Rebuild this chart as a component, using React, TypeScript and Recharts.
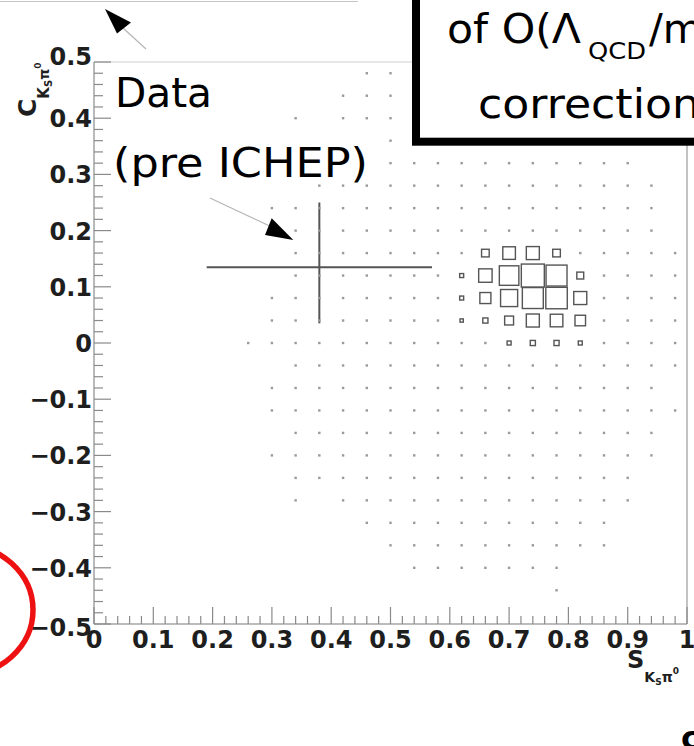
import React from 'react';
import { ScatterChart, Scatter, XAxis, YAxis, ZAxis, ErrorBar, ReferenceLine } from 'recharts';

// Bin centres of the 25 x 25 histogram (S on [0, 1], C on [-0.5, 0.5])
const sBinCenters = [
  0.02, 0.06, 0.1, 0.14, 0.18, 0.22, 0.26, 0.3, 0.34, 0.38, 0.42, 0.46, 0.5,
  0.54, 0.58, 0.62, 0.66, 0.7, 0.74, 0.78, 0.82, 0.86, 0.9, 0.94, 0.98,
];
// C bin centres, top row first
const cBinCenters = [
  0.48, 0.44, 0.4, 0.36, 0.32, 0.28, 0.24, 0.2, 0.16, 0.12, 0.08, 0.04, 0,
  -0.04, -0.08, -0.12, -0.16, -0.2, -0.24, -0.28, -0.32, -0.36, -0.4, -0.44, -0.48,
];

// Cell contents, one row per C bin (same order as cBinCenters)
const cellCounts = [
  [0, 0, 0, 0, 0, 0, 0, 0, 0, 0, 0, 1, 1, 0, 0, 0, 0, 0, 0, 0, 0, 0, 0, 0, 0],
  [0, 0, 0, 0, 0, 0, 0, 0, 0, 0, 1, 1, 1, 0, 0, 0, 0, 0, 0, 0, 0, 0, 0, 0, 0],
  [0, 0, 0, 0, 0, 0, 0, 0, 1, 0, 1, 1, 1, 0, 0, 0, 0, 0, 0, 0, 0, 0, 0, 0, 0],
  [0, 0, 0, 0, 0, 0, 0, 0, 0, 0, 0, 0, 1, 0, 0, 0, 0, 0, 0, 0, 0, 0, 0, 0, 0],
  [0, 0, 0, 0, 0, 0, 0, 0, 0, 0, 0, 0, 1, 1, 1, 1, 1, 1, 1, 1, 1, 1, 1, 0, 0],
  [0, 0, 0, 0, 0, 0, 0, 0, 0, 1, 1, 1, 1, 1, 1, 1, 1, 1, 1, 1, 1, 1, 1, 1, 0],
  [0, 0, 0, 0, 0, 0, 0, 1, 1, 1, 1, 1, 1, 1, 1, 1, 1, 1, 1, 1, 1, 1, 1, 1, 0],
  [0, 0, 0, 0, 0, 0, 0, 0, 1, 1, 1, 1, 1, 1, 1, 1, 1, 1, 1, 1, 1, 1, 1, 1, 0],
  [0, 0, 0, 0, 0, 0, 0, 0, 1, 1, 1, 1, 1, 1, 1, 1, 11, 30, 32, 11, 1, 1, 1, 1, 1],
  [0, 0, 0, 0, 0, 0, 0, 0, 1, 1, 1, 1, 1, 1, 1, 3, 34, 72, 100, 83, 9, 1, 1, 1, 1],
  [0, 0, 0, 0, 0, 0, 0, 1, 1, 1, 1, 1, 1, 1, 1, 3, 23, 55, 83, 87, 32, 1, 1, 1, 1],
  [0, 0, 0, 0, 0, 0, 0, 1, 1, 1, 1, 1, 1, 1, 1, 2, 5, 15, 32, 30, 21, 1, 1, 1, 1],
  [0, 0, 0, 0, 0, 0, 1, 1, 1, 1, 1, 1, 1, 1, 1, 1, 1, 3, 5, 5, 3, 1, 1, 1, 1],
  [0, 0, 0, 0, 0, 0, 0, 0, 1, 1, 1, 1, 1, 1, 1, 1, 1, 1, 1, 1, 1, 1, 1, 1, 1],
  [0, 0, 0, 0, 0, 0, 0, 1, 1, 1, 1, 1, 1, 1, 1, 1, 1, 1, 1, 1, 1, 1, 1, 1, 0],
  [0, 0, 0, 0, 0, 0, 0, 1, 1, 1, 1, 1, 1, 1, 1, 1, 1, 1, 1, 1, 1, 1, 1, 1, 1],
  [0, 0, 0, 0, 0, 0, 0, 0, 1, 1, 1, 1, 1, 1, 1, 1, 1, 1, 1, 1, 1, 1, 1, 1, 0],
  [0, 0, 0, 0, 0, 0, 0, 1, 1, 1, 1, 1, 1, 1, 1, 1, 1, 1, 1, 1, 1, 1, 1, 1, 0],
  [0, 0, 0, 0, 0, 0, 0, 0, 1, 1, 1, 1, 1, 1, 1, 1, 1, 1, 1, 1, 1, 1, 1, 0, 0],
  [0, 0, 0, 0, 0, 0, 0, 0, 1, 0, 1, 1, 1, 1, 1, 1, 1, 1, 1, 1, 1, 1, 1, 0, 0],
  [0, 0, 0, 0, 0, 0, 0, 0, 0, 0, 0, 1, 1, 1, 1, 1, 1, 1, 1, 1, 1, 1, 0, 0, 0],
  [0, 0, 0, 0, 0, 0, 0, 0, 0, 0, 0, 0, 1, 1, 1, 1, 1, 1, 1, 1, 1, 1, 0, 0, 0],
  [0, 0, 0, 0, 0, 0, 0, 0, 0, 0, 0, 0, 0, 1, 1, 1, 1, 1, 1, 1, 0, 0, 0, 0, 0],
  [0, 0, 0, 0, 0, 0, 0, 0, 0, 0, 0, 0, 0, 0, 0, 0, 0, 0, 0, 1, 0, 0, 0, 0, 0],
  [0, 0, 0, 0, 0, 0, 0, 0, 0, 0, 0, 0, 0, 0, 0, 0, 0, 0, 0, 0, 0, 0, 0, 0, 0],
];

// Measured point with its uncertainties
const measurement = [{ s: 0.38, c: 0.135, sErr: 0.19, cErr: [0.1, 0.115] }];

// Labelled axis divisions
const sMajorTicks = [0, 0.1, 0.2, 0.3, 0.4, 0.5, 0.6, 0.7, 0.8, 0.9, 1];
const cMajorTicks = [-0.5, -0.4, -0.3, -0.2, -0.1, 0, 0.1, 0.2, 0.3, 0.4, 0.5];
const SUBDIVISIONS = 5;

const withMinor = (majors: number[]) => {
  const out: number[] = [];
  for (let i = 0; i < majors.length - 1; i++) {
    const step = (majors[i + 1] - majors[i]) / SUBDIVISIONS;
    for (let k = 0; k < SUBDIVISIONS; k++) out.push(Math.round((majors[i] + k * step) * 1000) / 1000);
  }
  out.push(majors[majors.length - 1]);
  return out;
};
const sTicks = withMinor(sMajorTicks);
const cTicks = withMinor(cMajorTicks);

const isMajor = (v: number) => Math.abs(v * 10 - Math.round(v * 10)) < 1e-6;
const fmt = (v: number) => {
  const r = Math.round(v * 10) / 10;
  if (r === 0) return '0';
  const s = String(Math.abs(r));
  return r < 0 ? '\u2212' + s : s;
};

const cells: { s: number; c: number; n: number }[] = [];
cellCounts.forEach((row, r) =>
  row.forEach((n, k) => {
    if (n > 0) cells.push({ s: sBinCenters[k], c: cBinCenters[r], n });
  })
);

const TICK_COLOR = '#8a8a8a';
const LABEL_FONT = 'DejaVu Sans';

const XTick = (props: any) => {
  const { x, y, payload } = props;
  const v = payload.value as number;
  const major = isMajor(v);
  return (
    <g>
      <line x1={x} x2={x} y1={y} y2={y - (major ? 17 : 8)} stroke={TICK_COLOR} strokeWidth={1.2} />
      {major && (
        <text x={x} y={y + 24} textAnchor="middle" fontFamily={LABEL_FONT} fontWeight="bold" fontSize={24} fill="#1e1e1e">
          {fmt(v)}
        </text>
      )}
    </g>
  );
};

const YTick = (props: any) => {
  const { x, y, payload } = props;
  const v = payload.value as number;
  const major = isMajor(v);
  const lift = v > 0.45 ? -6 : v < -0.45 ? 3 : 0;
  return (
    <g>
      <line x1={x} x2={x + (major ? 17 : 9)} y1={y} y2={y} stroke={TICK_COLOR} strokeWidth={1.2} />
      {major && (
        <text x={x - 2} y={y + 9 + lift} textAnchor="end" fontFamily={LABEL_FONT} fontWeight="bold" fontSize={24} fill="#1e1e1e">
          {fmt(v)}
        </text>
      )}
    </g>
  );
};

// Box whose area follows the cell content (area comes from the Z axis)
const BinBox = (props: any) => {
  const { cx, cy, size, width } = props;
  if (cx == null || cy == null) return <g />;
  const area = typeof size === 'number' ? size : Math.PI * Math.pow((width || 0) / 2, 2);
  const side = Math.sqrt(Math.max(area, 0));
  if (side < 3) {
    return <rect x={cx - 1.2} y={cy - 1.2} width={2.4} height={2.4} fill="#9a9a9a" />;
  }
  return (
    <rect
      x={cx - side / 2}
      y={cy - side / 2}
      width={side}
      height={side}
      fill="none"
      stroke="#555"
      strokeWidth={1.4}
    />
  );
};

const NoMarker = () => <g />;

const Annotations = () => (
  <svg
    width={694}
    height={746}
    style={{ position: 'absolute', left: 0, top: 0, pointerEvents: 'none' }}
  >
    {/* edge of the panel above */}
    <line x1={0} y1={1.5} x2={358} y2={1.5} stroke="#c4c4c4" strokeWidth={1.2} />
    {/* upper arrow */}
    <line x1={123} y1={28} x2={146} y2={49} stroke="#b5b5b5" strokeWidth={1.2} />
    <polygon points="105,9 131,22.5 117,33.5" fill="#000" />

    {/* framed note */}
    <rect x={416} y={-30} width={300} height={171.7} fill="#fff" stroke="#000" strokeWidth={8} />
    <text x={447} y={43} fontFamily={LABEL_FONT} fontSize={41} fill="#000" textLength={134} lengthAdjust="spacingAndGlyphs">
      of O(Λ
    </text>
    <text x={588} y={59} fontFamily={LABEL_FONT} fontSize={23} fill="#000" textLength={58} lengthAdjust="spacingAndGlyphs">
      QCD
    </text>
    <text x={649} y={43} fontFamily={LABEL_FONT} fontSize={41} fill="#000">
      /m
    </text>
    <text x={478} y={118} fontFamily={LABEL_FONT} fontSize={41} fill="#000" textLength={222} lengthAdjust="spacingAndGlyphs">
      correction
    </text>

    {/* data label and its arrow */}
    <text x={115} y={107} fontFamily={LABEL_FONT} fontSize={41} fill="#000" textLength={97} lengthAdjust="spacingAndGlyphs">
      Data
    </text>
    <text x={113} y={177} fontFamily={LABEL_FONT} fontSize={41} fill="#000" textLength={255} lengthAdjust="spacingAndGlyphs">
      (pre ICHEP)
    </text>
    <line x1={210} y1={198} x2={276} y2={229} stroke="#b5b5b5" strokeWidth={1.2} />
    <polygon points="271.7,218.3 265,235 293.3,240" fill="#000" />

    {/* red highlight */}
    <ellipse cx={-40} cy={610} rx={73} ry={66} fill="none" stroke="#ee1111" strokeWidth={5.5} />

    {/* axis titles */}
    <g transform="translate(36,117) rotate(-90)">
      <text x={0} y={0} fontFamily={LABEL_FONT} fontWeight="bold" fontSize={25} fill="#1e1e1e">
        C
        <tspan fontSize={15} dy={13}>K</tspan>
        <tspan fontSize={10} dy={3}>S</tspan>
        <tspan fontSize={14} dy={-3}>π</tspan>
        <tspan fontSize={9} dy={-8}>0</tspan>
      </text>
    </g>
    <text x={627} y={668} fontFamily={LABEL_FONT} fontWeight="bold" fontSize={24} fill="#1e1e1e">
      S
      <tspan fontSize={14} dy={14}>K</tspan>
      <tspan fontSize={9} dy={3}>S</tspan>
      <tspan fontSize={14} dy={-3}>π</tspan>
      <tspan fontSize={9} dy={-8}>0</tspan>
    </text>

    {/* partly visible letter at the lower edge */}
    <text x={681} y={749} fontFamily={LABEL_FONT} fontWeight="bold" fontSize={32} fill="#000">
      c
    </text>
  </svg>
);

export default function App() {
  return (
    <div style={{ position: 'absolute', left: 0, top: 0, width: 694, height: 746, background: '#fff' }}>
      <ScatterChart width={694} height={746} margin={{ top: 62, right: 7, bottom: 92, left: 34 }}>
        <XAxis
          type="number"
          dataKey="s"
          domain={[0, 1]}
          ticks={sTicks}
          interval={0}
          height={30}
          tickSize={0}
          tickMargin={0}
          tickLine={false}
          axisLine={{ stroke: '#7a7a7a', strokeWidth: 1.2 }}
          tick={<XTick />}
        />
        <YAxis
          type="number"
          dataKey="c"
          domain={[-0.5, 0.5]}
          ticks={cTicks}
          interval={0}
          width={60}
          tickSize={0}
          tickMargin={0}
          tickLine={false}
          axisLine={{ stroke: '#8a8a8a', strokeWidth: 1.2 }}
          tick={<YTick />}
        />
        <ZAxis type="number" dataKey="n" domain={[0, 100]} range={[0, 529]} />
        <ReferenceLine y={0.5} stroke="#cfcfcf" strokeWidth={1.2} />
        <ReferenceLine x={1} stroke="#9a9a9a" strokeWidth={1.2} />
        <Scatter data={cells} shape={<BinBox />} isAnimationActive={false} />
        <Scatter data={measurement} shape={<NoMarker />} isAnimationActive={false}>
          <ErrorBar dataKey="sErr" direction="x" width={0} stroke="#555" strokeWidth={2} />
          <ErrorBar dataKey="cErr" direction="y" width={0} stroke="#555" strokeWidth={2} />
        </Scatter>
      </ScatterChart>
      <Annotations />
    </div>
  );
}
